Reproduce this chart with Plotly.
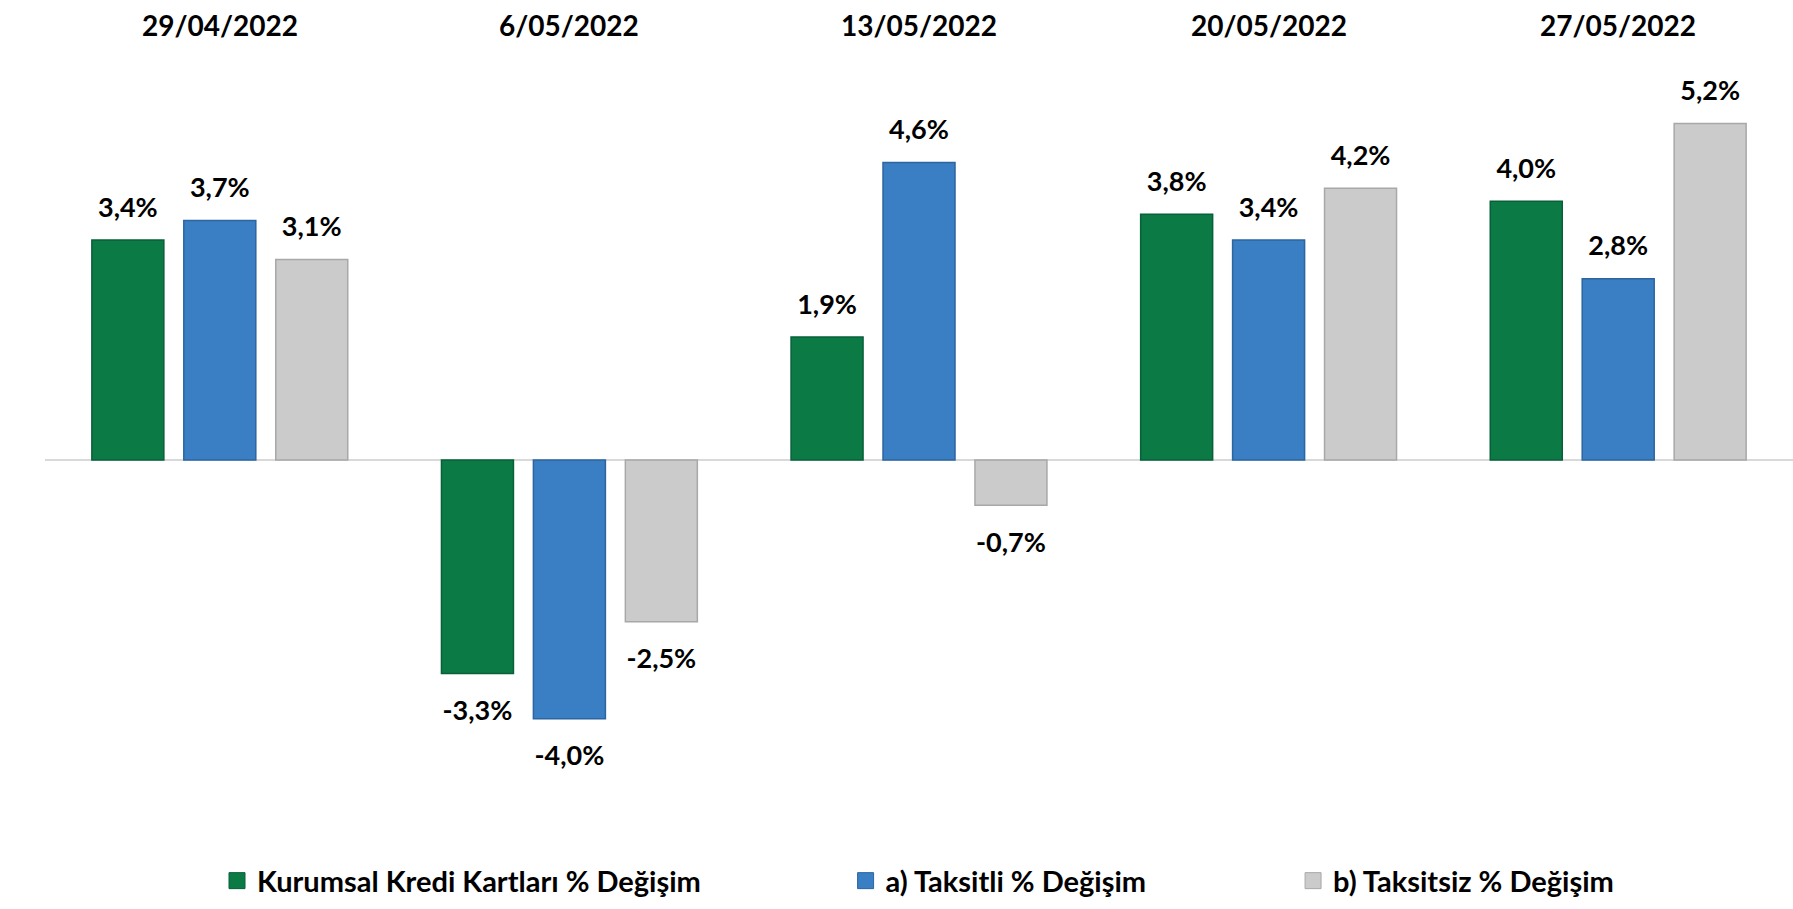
import plotly.graph_objects as go

dates = ["29/04/2022", "6/05/2022", "13/05/2022", "20/05/2022", "27/05/2022"]
kurumsal = [3.4, -3.3, 1.9, 3.8, 4.0]
taksitli = [3.7, -4.0, 4.6, 3.4, 2.8]
taksitsiz = [3.1, -2.5, -0.7, 4.2, 5.2]

names = ["Kurumsal Kredi Kartları % Değişim", "a) Taksitli % Değişim", "b) Taksitsiz % Değişim"]
colors = ["#0B7A45", "#3A7EC3", "#CBCBCB"]
edge = ["#07603A", "#2C659F", "#A8A8A8"]
series = [kurumsal, taksitli, taksitsiz]
legend_ids = ["legend", "legend2", "legend3"]

FONT = "Lato"

def fmt(v):
    return ("%.1f%%" % v).replace(".", ",")

fig = go.Figure()
for name, vals, c, e in zip(names, series, colors, edge):
    fig.add_trace(go.Bar(
        x=dates, y=vals, name=name, showlegend=False,
        marker=dict(color=c, line=dict(color=e, width=1.5)),
    ))
for name, vals in zip(names, series):
    fig.add_trace(go.Scatter(
        x=dates, y=vals, mode="markers+text", showlegend=False, hoverinfo="skip",
        text=[fmt(v) for v in vals],
        textposition=["top center" if v >= 0 else "bottom center" for v in vals],
        marker=dict(size=[25 if v >= 0 else 40 for v in vals], opacity=0),
        textfont=dict(family=FONT, size=27, color="#000000", weight="bold"),
        cliponaxis=False,
    ))
# legend entries (on a hidden helper subplot so they don't affect grouping)
for name, c, e, lg in zip(names, colors, edge, legend_ids):
    fig.add_trace(go.Scatter(
        x=[None], y=[None], mode="markers", name=name, legend=lg,
        marker=dict(symbol="square", size=17, color=c, line=dict(color=e, width=1)),
        xaxis="x2", yaxis="y2",
    ))

for d in dates:
    fig.add_annotation(x=d, y=1.0696, xref="x", yref="paper", text=d, showarrow=False,
                       yanchor="middle", font=dict(family=FONT, size=28, color="#000000", weight="bold"))

legfont = dict(family=FONT, size=29, color="#000000", weight="bold")
common_leg = dict(y=-0.146, xanchor="left", yanchor="middle", font=legfont,
                  bgcolor="rgba(0,0,0,0)", itemsizing="trace")
fig.update_layout(
    width=1793, height=909,
    margin=dict(l=45, r=0, t=74, b=131),
    paper_bgcolor="white", plot_bgcolor="white",
    barmode="group", bargap=0.211, bargroupgap=0.217,
    scattermode="group", scattergap=0.211,
    xaxis=dict(showticklabels=False, showgrid=False, showline=False, ticks="", zeroline=False),
    yaxis=dict(range=[-4.915, 5.966], showticklabels=False, showgrid=False, showline=False, ticks="",
               zeroline=True, zerolinecolor="#D9D9D9", zerolinewidth=2),
    xaxis2=dict(domain=[0, 0.001], anchor="y2", visible=False),
    yaxis2=dict(domain=[0, 0.001], anchor="x2", visible=False),
    legend=dict(x=0.0984, **common_leg),
    legend2=dict(x=0.458, **common_leg),
    legend3=dict(x=0.714, **common_leg),
    showlegend=True,
)

fig.write_html("out.html", config={"displayModeBar": False},
               post_script="document.body.style.margin='0';document.body.style.overflow='hidden';")
